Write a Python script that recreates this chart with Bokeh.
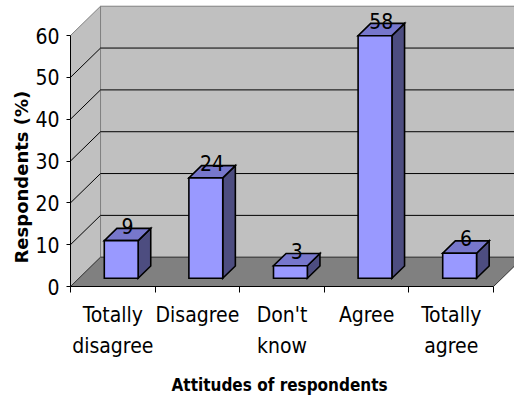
from bokeh.plotting import figure
from bokeh.models import FixedTicker, LinearAxis, Range1d, Title
from bokeh.embed import file_html
from bokeh.resources import INLINE
from bokeh.core.properties import value

# Survey data
categories_line1 = ["Totally", "Disagree", "Don't", "Agree", "Totally"]
categories_line2 = ["disagree", "", "know", "", "agree"]
respondents_pct = [9, 24, 3, 58, 6]
y_ticks = [0, 10, 20, 30, 40, 50, 60]

N = len(respondents_pct)
Y_MAX = y_ticks[-1]

# 3-D box geometry in data units
DX = 0.355      # depth along x
DY = 7.0        # depth along y
BAR_W = 0.4     # bar width (gap 150%)
FRONT = 0.28    # bar front face, fraction of depth
BACK = 0.70     # bar back face, fraction of depth

NARROW = "DejaVu Sans Condensed"

WALL = "#C0C0C0"
FLOOR = "#808080"
BAR_FRONT = "#9999FF"
BAR_TOP = "#7777CC"
BAR_SIDE = "#4D4D80"

p = figure(width=514, height=411,
           x_range=Range1d(0, 5.248), y_range=Range1d(0, 68.37),
           x_axis_location=None, y_axis_location=None,
           output_backend="svg", toolbar_location=None,
           min_border_left=70, min_border_right=0,
           min_border_top=0, min_border_bottom=125)
p.outline_line_color = None
p.grid.visible = False
p.background_fill_color = "white"
p.border_fill_color = "white"

# walls and floor
p.patch([0, DX, DX, 0], [0, DY, DY + Y_MAX, Y_MAX],
        fill_color=WALL, line_color="#808080", line_width=1)
p.patch([DX, N + DX, N + DX, DX], [DY, DY, DY + Y_MAX, DY + Y_MAX],
        fill_color=WALL, line_color="#808080", line_width=1)
p.patch([0, N, N + DX, DX], [0, 0, DY, DY],
        fill_color=FLOOR, line_color="#333333", line_width=1)

# gridlines on the back and side walls
grid_vals = [v for v in y_ticks if 0 < v < Y_MAX]
p.multi_line([[DX, N + DX] for v in grid_vals], [[v + DY, v + DY] for v in grid_vals],
             line_color="black", line_width=1)
p.multi_line([[0, DX] for v in grid_vals], [[v, v + DY] for v in grid_vals],
             line_color="black", line_width=1)

# bars
fx, fy = FRONT * DX, FRONT * DY
dx, dy = (BACK - FRONT) * DX, (BACK - FRONT) * DY
front_xs, front_ys, top_xs, top_ys, side_xs, side_ys = [], [], [], [], [], []
label_x, label_y = [], []
for i, v in enumerate(respondents_pct):
    left = i + 0.5 - BAR_W / 2 + fx
    right = i + 0.5 + BAR_W / 2 + fx
    bottom = fy
    top = v + fy
    front_xs.append([left, right, right, left])
    front_ys.append([bottom, bottom, top, top])
    top_xs.append([left, right, right + dx, left + dx])
    top_ys.append([top, top, top + dy, top + dy])
    side_xs.append([right, right + dx, right + dx, right])
    side_ys.append([bottom, bottom + dy, top + dy, top])
    label_x.append((left + right) / 2 + dx / 2)
    label_y.append(top + 3.6)

bar_line = dict(line_color="black", line_width=1.6, line_join="miter")
p.patches(side_xs, side_ys, fill_color=BAR_SIDE, **bar_line)
p.patches(top_xs, top_ys, fill_color=BAR_TOP, **bar_line)
p.patches(front_xs, front_ys, fill_color=BAR_FRONT, **bar_line)

p.text(label_x, label_y, text=[str(v) for v in respondents_pct],
       text_font=value(NARROW), text_font_size="21px", text_color="black",
       text_align="center", text_baseline="middle")

# value axis
yaxis = LinearAxis(ticker=FixedTicker(ticks=y_ticks), bounds=(0, Y_MAX))
yaxis.axis_line_color = "black"
yaxis.major_tick_line_color = "black"
yaxis.major_tick_in = 0
yaxis.major_tick_out = 4
yaxis.minor_tick_line_color = None
yaxis.major_label_text_font = NARROW
yaxis.major_label_text_font_size = "21px"
yaxis.major_label_text_color = "black"
yaxis.major_label_standoff = 7
p.add_layout(yaxis, "left")

# value axis title, placed along the value span
p.add_layout(Title(text="Respondents (%)", align="left", offset=23, standoff=2,
                   text_font="DejaVu Sans", text_font_style="bold",
                   text_font_size="18px", text_color="black"), "left")

# category axis, two label rows
centers = [i + 0.5 for i in range(N)]
xaxis1 = LinearAxis(ticker=FixedTicker(ticks=centers, minor_ticks=list(range(N + 1))),
                    bounds=(0, N),
                    major_label_overrides={c: t for c, t in zip(centers, categories_line1)})
xaxis1.axis_line_color = "black"
xaxis1.major_tick_line_color = None
xaxis1.major_tick_in = 0
xaxis1.major_tick_out = 6
xaxis1.minor_tick_line_color = "black"
xaxis1.minor_tick_in = 0
xaxis1.minor_tick_out = 6
xaxis1.major_label_text_font = NARROW
xaxis1.major_label_text_font_size = "21px"
xaxis1.major_label_text_color = "black"
xaxis1.major_label_standoff = 10
p.add_layout(xaxis1, "below")

xaxis2 = LinearAxis(ticker=FixedTicker(ticks=centers), bounds=(0, N),
                    major_label_overrides={c: t for c, t in zip(centers, categories_line2)})
xaxis2.axis_line_color = None
xaxis2.major_tick_line_color = None
xaxis2.minor_tick_line_color = None
xaxis2.major_tick_in = 0
xaxis2.major_tick_out = 0
xaxis2.major_label_text_font = NARROW
xaxis2.major_label_text_font_size = "21px"
xaxis2.major_label_text_color = "black"
xaxis2.major_label_standoff = 4
p.add_layout(xaxis2, "below")

# category axis title, placed under the category span
p.add_layout(Title(text="Attitudes of respondents", align="left", offset=101,
                   standoff=29, vertical_align="top", text_font=NARROW,
                   text_font_style="bold", text_font_size="17px",
                   text_color="black"), "below")

open("out.html", "w").write(file_html(p, INLINE))
